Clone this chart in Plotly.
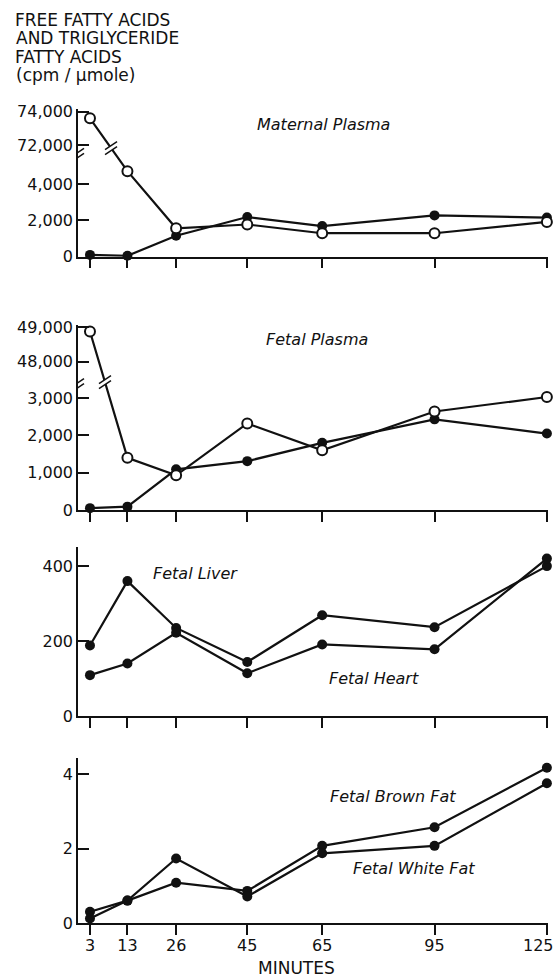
import plotly.graph_objects as go

# ---------------- data ----------------
minutes = [3, 13, 26, 45, 65, 95, 125]
minute_labels = ["3", "13", "26", "45", "65", "95", "125"]

maternal_open = [73600, 4700, 1560, 1770, 1290, 1290, 1910]
maternal_filled = [100, 50, 1150, 2180, 1680, 2270, 2150]

fetal_plasma_open = [48880, 1400, 930, 2320, 1600, 2640, 3030]
fetal_plasma_filled = [50, 90, 1090, 1310, 1800, 2430, 2050]

fetal_liver = [188, 360, 235, 144, 269, 237, 400]
fetal_heart = [109, 140, 222, 114, 191, 178, 420]

fetal_brown_fat = [0.31, 0.61, 1.09, 0.87, 2.08, 2.58, 4.18]
fetal_white_fat = [0.13, 0.61, 1.74, 0.72, 1.88, 2.08, 3.76]

maternal_ticks = [0, 2000, 4000, 72000, 74000]
maternal_tick_labels = ["0", "2,000", "4,000", "72,000", "74,000"]
fetal_plasma_ticks = [0, 1000, 2000, 3000, 48000, 49000]
fetal_plasma_tick_labels = ["0", "1,000", "2,000", "3,000", "48,000", "49,000"]
organ_ticks = [0, 200, 400]
organ_tick_labels = ["0", "200", "400"]
fat_ticks = [0, 2, 4]
fat_tick_labels = ["0", "2", "4"]

# broken-axis settings: values above low_top are drawn on a squeezed upper segment
MAT_BREAK = dict(low_top=5300, high_base=72000, high_pos=6137, squeeze=0.915)
FET_BREAK = dict(low_top=3400, high_base=48000, high_pos=3976, squeeze=0.922)


def broken(values, low_top, high_base, high_pos, squeeze):
    return [v if v <= low_top else high_pos + (v - high_base) * squeeze for v in values]


W, H = 557, 979
FONT = "DejaVu Sans"
BLACK = "#111111"


def py(px):
    return 1 - px / H


x_domain = [78 / W, 548 / W]
x_range = [-0.2, 125.3]

panels = [
    # (y domain, y range)
    ([py(256.7), py(109)], [0, 8115]),
    ([py(510), py(325)], [0, 4960]),
    ([py(716), py(547)], [0, 451]),
    ([py(923.3), py(758)], [0, 4.44]),
]

fig = go.Figure()


def add_series(values, idx, hollow):
    fig.add_trace(go.Scatter(
        x=minutes, y=values,
        xaxis="x" if idx == 1 else f"x{idx}",
        yaxis="y" if idx == 1 else f"y{idx}",
        mode="lines+markers",
        line=dict(color=BLACK, width=2.2),
        marker=dict(
            size=10,
            color="white" if hollow else BLACK,
            line=dict(color=BLACK, width=2 if hollow else 0),
        ),
        cliponaxis=False,
        showlegend=False,
        hoverinfo="skip",
    ))


add_series(broken(maternal_filled, **MAT_BREAK), 1, False)
add_series(broken(maternal_open, **MAT_BREAK), 1, True)
add_series(broken(fetal_plasma_filled, **FET_BREAK), 2, False)
add_series(broken(fetal_plasma_open, **FET_BREAK), 2, True)
add_series(fetal_liver, 3, False)
add_series(fetal_heart, 3, False)
add_series(fetal_brown_fat, 4, False)
add_series(fetal_white_fat, 4, False)

ytick_sets = [
    (broken(maternal_ticks, **MAT_BREAK), maternal_tick_labels),
    (broken(fetal_plasma_ticks, **FET_BREAK), fetal_plasma_tick_labels),
    (organ_ticks, organ_tick_labels),
    (fat_ticks, fat_tick_labels),
]

layout = dict(
    width=W, height=H,
    margin=dict(l=0, r=0, t=0, b=0, pad=0),
    paper_bgcolor="white", plot_bgcolor="white",
    font=dict(family=FONT, color=BLACK, size=15),
    showlegend=False,
)

# the last minute label sits against the right edge; it is drawn as an annotation
axis_minute_labels = minute_labels[:-1] + [""]

for i, ((ydom, yrng), (tv, tt)) in enumerate(zip(panels, ytick_sets), start=1):
    xs = "" if i == 1 else str(i)
    layout[f"xaxis{xs}"] = dict(
        domain=x_domain, range=x_range, anchor=f"y{xs}",
        showline=True, linecolor=BLACK, linewidth=1.5,
        ticks="outside", ticklen=10, tickwidth=1.5, tickcolor=BLACK,
        tickmode="array", tickvals=minutes, ticktext=axis_minute_labels,
        showticklabels=(i == 4), tickfont=dict(size=16, family=FONT),
        ticklabeloverflow="allow", ticklabelstandoff=-3,
        showgrid=False, zeroline=False, automargin=False, fixedrange=True,
    )
    layout[f"yaxis{xs}"] = dict(
        domain=ydom, range=yrng, anchor=f"x{xs}",
        showline=True, linecolor=BLACK, linewidth=1.5,
        ticks="inside", ticklen=11, tickwidth=1.5, tickcolor=BLACK,
        tickmode="array", tickvals=tv, ticktext=tt,
        tickfont=dict(size=16, family=FONT),
        ticklabeloverflow="allow",
        showgrid=False, zeroline=False, automargin=False, fixedrange=True,
    )

fig.update_layout(**layout)

# ---------------- break marks ----------------
shapes = []


def break_mark(xref, yref, xa, ya):
    common = dict(xref=xref, yref=yref, xsizemode="pixel", ysizemode="pixel",
                  xanchor=xa, yanchor=ya, layer="above")
    shapes.append(dict(type="path", path="M -6,-6.5 L 6,1.5 L 6,6.5 L -6,-1.5 Z",
                       fillcolor="white", line=dict(width=0), **common))
    shapes.append(dict(type="line", x0=-6, y0=-6.5, x1=6, y1=1.5,
                       line=dict(color=BLACK, width=1.5), **common))
    shapes.append(dict(type="line", x0=-6, y0=-1.5, x1=6, y1=6.5,
                       line=dict(color=BLACK, width=1.5), **common))


def line_break_anchor(xs, ys, level):
    t = (ys[0] - level) / (ys[0] - ys[1])
    return xs[0] + t * (xs[1] - xs[0])


# panel 1
break_mark("x", "y", x_range[0], 5590)
mo = broken(maternal_open, **MAT_BREAK)
break_mark("x", "y", line_break_anchor(minutes, mo, 5970), 5970)
# panel 2
break_mark("x2", "y2", x_range[0], 3350)
fo = broken(fetal_plasma_open, **FET_BREAK)
break_mark("x2", "y2", line_break_anchor(minutes, fo, 3430), 3430)

fig.update_layout(shapes=shapes)

# ---------------- text ----------------
ann = []
title_lines = [("FREE FATTY ACIDS", 13, 19.5), ("AND TRIGLYCERIDE", 14, 38),
               ("FATTY ACIDS", 13, 56.5), ("(cpm / µmole)", 14, 75)]
for txt, x, y in title_lines:
    ann.append(dict(text=txt, x=x / W, y=py(y), xref="paper", yref="paper",
                    xanchor="left", yanchor="middle", showarrow=False,
                    font=dict(size=17, family=FONT, color=BLACK)))

labels = [("Maternal Plasma", 323, 124), ("Fetal Plasma", 317, 339),
          ("Fetal Liver", 195, 573), ("Fetal Heart", 374, 678),
          ("Fetal Brown Fat", 393, 796), ("Fetal White Fat", 414, 868)]
for txt, x, y in labels:
    ann.append(dict(text=f"<i>{txt}</i>", x=x / W, y=py(y), xref="paper", yref="paper",
                    xanchor="center", yanchor="middle", showarrow=False,
                    font=dict(size=16, family=FONT, color=BLACK)))

ann.append(dict(text=minute_labels[-1], x=minutes[-1], xref="x4", y=py(945), yref="paper",
                xanchor="right", xshift=9, yanchor="middle", showarrow=False,
                font=dict(size=16, family=FONT, color=BLACK)))

ann.append(dict(text="MINUTES", x=296 / W, y=py(967.5), xref="paper", yref="paper",
                xanchor="center", yanchor="middle", showarrow=False,
                font=dict(size=17, family=FONT, color=BLACK)))

fig.update_layout(annotations=ann)

fig.write_html(
    "out.html",
    config={"displayModeBar": False},
    post_script="document.body.style.margin='0';document.body.style.padding='0';"
                "document.body.style.overflow='hidden';",
)
